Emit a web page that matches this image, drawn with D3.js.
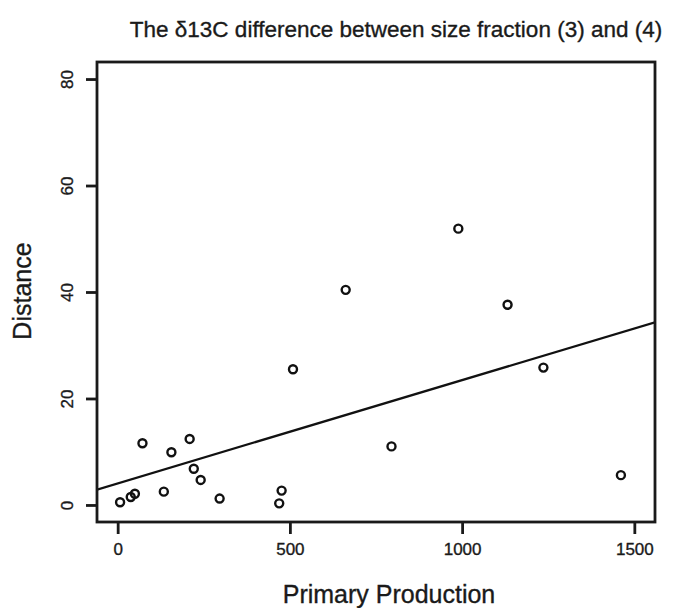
<!DOCTYPE html>
<html>
<head>
<meta charset="utf-8">
<script src="https://cdn.jsdelivr.net/npm/d3@7"></script>
<style>
  body { margin: 0; background: #fff; }
  text { font-family: "Liberation Sans", Arial, sans-serif; fill: #1a1a1a; stroke: #1a1a1a; stroke-width: 0.35px; }
</style>
</head>
<body>
<svg class="chart"></svg>
<script>
const width = 678;
const height = 608;
const margin = { top: 62, left: 97, bottom: 86, right: 20 };

// data
const production = [7, 38, 50, 72, 134, 156, 209, 221, 241, 296, 469, 476, 509, 662, 795, 989, 1132, 1236, 1461];
const distance = [0.5, 1.5, 2.1, 11.6, 2.5, 9.9, 12.4, 6.8, 4.7, 1.2, 0.3, 2.7, 25.5, 40.4, 11.0, 51.9, 37.6, 25.8, 5.6];
const xTicks = [0, 500, 1000, 1500];
const yTicks = [0, 20, 40, 60, 80];
// fitted line, intercept and slope
const fit = [4.05, 0.0194];

const data = production.map((p, i) => ({ x: p, y: distance[i] }));

let svg = d3.select("svg.chart")
    .attr("width", width)
    .attr("height", height);

let x = d3.scaleLinear()
    .domain([-60, 1560])
    .range([margin.left, width - margin.right - 3]);

let y = d3.scaleLinear()
    .domain([-3.2, 83.2])
    .range([height - margin.bottom, margin.top]);

svg.append("defs").append("clipPath")
    .attr("id", "clip")
  .append("rect")
    .attr("x", x.range()[0])
    .attr("y", y.range()[1])
    .attr("width", x.range()[1] - x.range()[0])
    .attr("height", y.range()[0] - y.range()[1]);

// regression line
let line = d3.line()
    .x(d => x(d))
    .y(d => y(fit[0] + fit[1] * d));

svg.append("path")
    .datum(x.domain())
    .attr("clip-path", "url(#clip)")
    .attr("fill", "none")
    .attr("stroke", "#111")
    .attr("stroke-width", 2.2)
    .attr("d", line);

// points
svg.selectAll(".dot")
    .data(data)
  .enter().append("circle")
    .attr("class", "dot")
    .attr("cx", d => x(d.x))
    .attr("cy", d => y(d.y))
    .attr("r", 4)
    .attr("fill", "none")
    .attr("stroke", "#111")
    .attr("stroke-width", 2.4);

// box
svg.append("rect")
    .attr("x", x.range()[0])
    .attr("y", y.range()[1])
    .attr("width", x.range()[1] - x.range()[0])
    .attr("height", y.range()[0] - y.range()[1])
    .attr("fill", "none")
    .attr("stroke", "#1a1a1a")
    .attr("stroke-width", 2.8);

// x axis
let xAxis = svg.append("g")
    .attr("transform", `translate(0, ${y.range()[0] + 1})`)
    .call(d3.axisBottom(x).tickValues(xTicks).tickSize(11).tickPadding(9).tickFormat(d3.format("d")));
xAxis.select(".domain").remove();
xAxis.selectAll(".tick line").attr("stroke", "#1a1a1a").attr("stroke-width", 2.8);
xAxis.selectAll(".tick text")
    .style("font-size", "17px")
    .attr("fill", "#1a1a1a");

// y axis
let yAxis = svg.append("g")
    .attr("transform", `translate(${x.range()[0] - 1}, 0)`)
    .call(d3.axisLeft(y).tickValues(yTicks).tickSize(10).tickPadding(0));
yAxis.select(".domain").remove();
yAxis.selectAll(".tick line").attr("stroke", "#1a1a1a").attr("stroke-width", 2.8);
yAxis.selectAll(".tick text")
    .attr("x", null)
    .attr("dy", null)
    .attr("transform", "translate(-29,0) rotate(-90)")
    .attr("text-anchor", "middle")
    .attr("dominant-baseline", "central")
    .style("font-size", "17px")
    .attr("fill", "#1a1a1a");

// titles
svg.append("text")
    .attr("x", 396)
    .attr("y", 37)
    .attr("text-anchor", "middle")
    .style("font-size", "22.5px")
    .text("The \u03b413C difference between size fraction (3) and (4)");

svg.append("text")
    .attr("x", 389)
    .attr("y", 603)
    .attr("text-anchor", "middle")
    .style("font-size", "25px")
    .text("Primary Production");

svg.append("text")
    .attr("transform", "translate(31, 291) rotate(-90)")
    .attr("text-anchor", "middle")
    .style("font-size", "25px")
    .text("Distance");
</script>
</body>
</html>
